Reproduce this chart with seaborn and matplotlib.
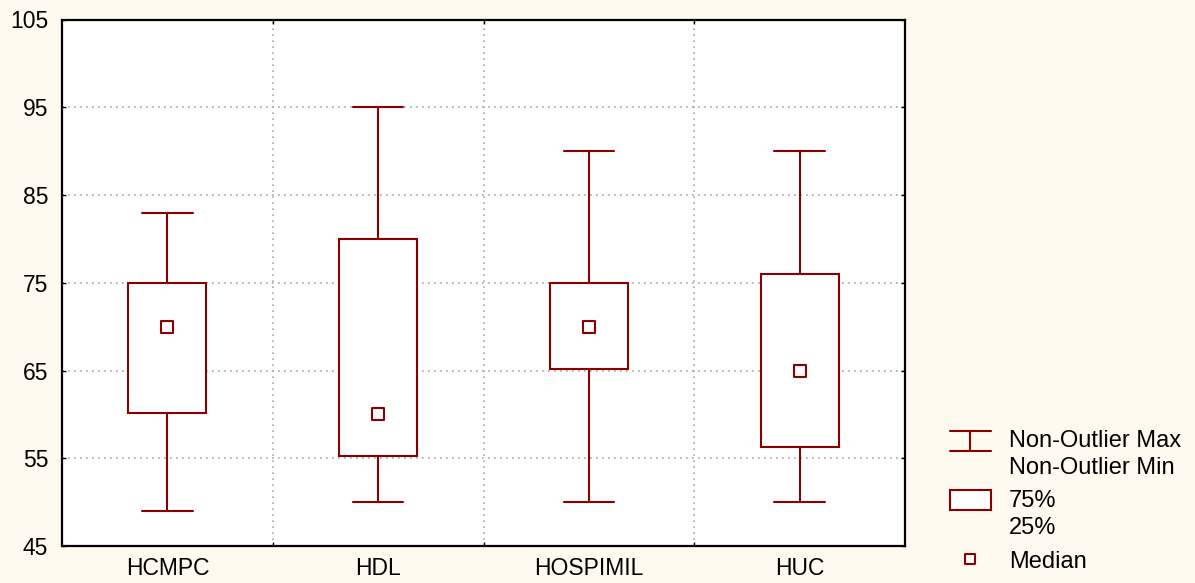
import numpy as np
import pandas as pd
import matplotlib
matplotlib.use("Agg")
import matplotlib.pyplot as plt
from matplotlib.patches import Rectangle
import seaborn as sns

# Summary statistics per hospital
hospitals = ["HCMPC", "HDL", "HOSPIMIL", "HUC"]
whisker_min = [49, 50, 50, 50]
q25 = [60.2, 55.3, 65.2, 56.3]
medians = [70, 60, 70, 65]
q75 = [75, 80, 75, 76]
whisker_max = [83, 95, 90, 90]

y_ticks = [45, 55, 65, 75, 85, 95, 105]

DARK_RED = "#880000"
BG = "#FFFAF0"
FONT = "Liberation Sans"

# Five points per group reproduce min / Q1 / median / Q3 / max exactly
rows = []
for h, lo, a, m, b, hi in zip(hospitals, whisker_min, q25, medians, q75, whisker_max):
    for v in (lo, a, m, b, hi):
        rows.append({"hospital": h, "value": v})
df = pd.DataFrame(rows)
med_df = pd.DataFrame({"hospital": hospitals, "median": medians})

sns.set_theme(style="white")
plt.rcParams["font.family"] = [FONT, "DejaVu Sans"]

fig = plt.figure(figsize=(11.95, 5.83), dpi=100, facecolor=BG)
ax = fig.add_axes([62 / 1195, 1 - 546 / 583, (905 - 62) / 1195, (546 - 19.5) / 583])
ax.set_facecolor("white")

lw = 1.5
sns.boxplot(
    data=df, x="hospital", y="value", order=hospitals, ax=ax,
    whis=(0, 100), showfliers=False, width=0.37, capwidths=0.24,
    color="white", linecolor=DARK_RED, linewidth=lw,
    medianprops={"visible": False},
    zorder=3,
)
sns.scatterplot(
    data=med_df, x="hospital", y="median", ax=ax,
    marker="s", s=72, color="white", edgecolor=DARK_RED, linewidth=1.5,
    zorder=5, legend=False,
)

ax.set_ylim(45, 105)
ax.set_xlim(-0.5, len(hospitals) - 0.5)
ax.set_yticks(y_ticks)
ax.set_xticks(range(len(hospitals)))
ax.set_xticks(np.arange(0.5, len(hospitals) - 0.5, 1.0), minor=True)
ax.set_xlabel("")
ax.set_ylabel("")

grid_kw = dict(color="#a9a9a9", linestyle=(0, (1, 2.6)), linewidth=1.2)
ax.grid(False)
ax.yaxis.grid(True, which="major", **grid_kw)
ax.xaxis.grid(True, which="minor", **grid_kw)
ax.set_axisbelow(True)

for s in ax.spines.values():
    s.set_visible(True)
    s.set_color("black")
    s.set_linewidth(1.6)

ax.tick_params(axis="y", which="major", direction="in", length=3, width=1,
               left=True, right=True, labelsize=16.5, pad=10, colors="black")
ax.tick_params(axis="x", which="major", length=0, labelsize=16.5, pad=8)
ax.tick_params(axis="x", which="minor", direction="in", length=3, width=1,
               bottom=True, top=True, colors="black")
for lab in ax.get_xticklabels() + ax.get_yticklabels():
    lab.set_color("black")

# Legend panel to the right of the plot, laid out in pixel units
lax = fig.add_axes([0, 0, 1, 1], facecolor="none")
lax.set_xlim(0, 1195)
lax.set_ylim(583, 0)
lax.axis("off")

sym_l, sym_r, sym_c = 950, 991, 970.5
lax.plot([sym_l, sym_r], [431, 431], color=DARK_RED, lw=lw)
lax.plot([sym_l, sym_r], [451, 451], color=DARK_RED, lw=lw)
lax.plot([sym_c, sym_c], [431, 451], color=DARK_RED, lw=lw)
lax.add_patch(Rectangle((sym_l, 490), sym_r - sym_l, 19.5, facecolor="white",
                        edgecolor=DARK_RED, lw=lw))
lax.scatter([sym_c], [559], marker="s", s=60, color="white",
            edgecolor=DARK_RED, linewidth=1.5)

txt_kw = dict(fontsize=17, color="black", va="center", ha="left")
lax.text(1009, 441, "Non-Outlier Max", **txt_kw)
lax.text(1009, 468, "Non-Outlier Min", **txt_kw)
lax.text(1009, 501, "75%", **txt_kw)
lax.text(1009, 528, "25%", **txt_kw)
lax.text(1009, 562, "Median", **txt_kw)

fig.savefig("out.png", dpi=100, facecolor=BG)
